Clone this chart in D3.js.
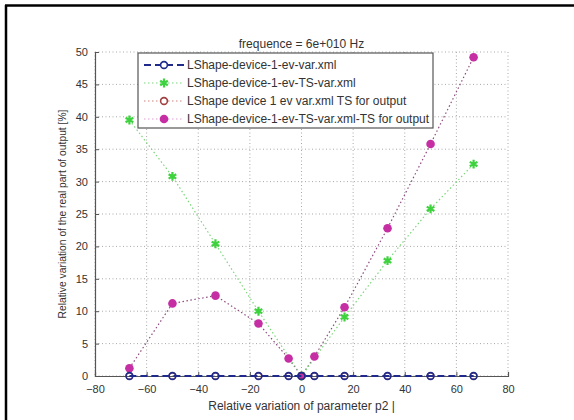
<!DOCTYPE html>
<html>
<head>
<meta charset="utf-8">
<script src="https://cdn.jsdelivr.net/npm/d3@7"></script>
<style>
  body { margin: 0; background: #fff; }
  svg { font-family: "Liberation Sans", Arial, sans-serif; }
</style>
</head>
<body>
<div id="chart"></div>
<script>
// data
var xVals = [-66.67, -50, -33.33, -16.67, -5, 0, 5, 16.67, 33.33, 50, 66.67];
var evVar = [0, 0, 0, 0, 0, 0, 0, 0, 0, 0, 0];
var tsX = [-66.67, -50, -33.33, -16.67, 0, 16.67, 33.33, 50, 66.67];
var tsVar = [39.5, 30.8, 20.4, 10.0, 0, 9.1, 17.8, 25.8, 32.7];
var evVarOut = [0, 0, 0, 0, 0, 0, 0, 0, 0, 0, 0];
var tsVarOut = [1.2, 11.2, 12.4, 8.1, 2.7, 0, 3.0, 10.6, 22.8, 35.8, 49.2];
var xTicks = [-80, -60, -40, -20, 0, 20, 40, 60, 80];
var yTicks = [0, 5, 10, 15, 20, 25, 30, 35, 40, 45, 50];
var legendNames = [
    'LShape-device-1-ev-var.xml',
    'LShape-device-1-ev-TS-var.xml',
    'LShape device 1 ev var.xml TS for output',
    'LShape-device-1-ev-TS-var.xml-TS for output'
];

var svgWidth = 574, svgHeight = 420;
var margin = { top: 52, right: 66, bottom: 44, left: 95 };
var width = svgWidth - margin.left - margin.right;
var height = svgHeight - margin.top - margin.bottom;

var svg = d3.select('#chart').append('svg')
    .attr('width', svgWidth)
    .attr('height', svgHeight);

// black frame (top and left edges only visible)
svg.append('line').attr('x1', 5).attr('x2', svgWidth).attr('y1', 5.5).attr('y2', 5.5)
    .attr('stroke', '#000').attr('stroke-width', 2.5);
svg.append('line').attr('x1', 6).attr('x2', 6).attr('y1', 5).attr('y2', svgHeight)
    .attr('stroke', '#000').attr('stroke-width', 2.5);

var chartGroup = svg.append('g')
    .attr('transform', `translate(${margin.left}, ${margin.top})`);

var xScale = d3.scaleLinear().domain([-80, 80]).range([0, width]);
var yScale = d3.scaleLinear().domain([0, 50]).range([height, 0]);

// grid
chartGroup.selectAll('.vgrid').data(xTicks).enter().append('line')
    .attr('x1', d => xScale(d)).attr('x2', d => xScale(d))
    .attr('y1', 0).attr('y2', height)
    .attr('stroke', '#a8a8a8').attr('stroke-width', 1).attr('stroke-dasharray', '1,2.5');
chartGroup.selectAll('.hgrid').data(yTicks).enter().append('line')
    .attr('x1', 0).attr('x2', width)
    .attr('y1', d => yScale(d)).attr('y2', d => yScale(d))
    .attr('stroke', '#a8a8a8').attr('stroke-width', 1).attr('stroke-dasharray', '1,2.5');

// axes, ticks pointing in
var bottomAxis = d3.axisBottom(xScale).tickValues(xTicks).tickSize(-4).tickPadding(9);
var leftAxis = d3.axisLeft(yScale).tickValues(yTicks).tickSize(-4).tickPadding(7);

var xAxis = chartGroup.append('g')
    .attr('transform', `translate(0, ${height})`)
    .call(bottomAxis);
var yAxis = chartGroup.append('g').call(leftAxis);

[xAxis, yAxis].forEach(a => {
    a.select('.domain').attr('stroke', '#555').attr('stroke-width', 1.2);
    a.selectAll('.tick line').attr('stroke', '#555');
    a.selectAll('.tick text').attr('fill', '#333').attr('font-size', '11px');
});

var line = d3.line().x(d => xScale(d[0])).y(d => yScale(d[1]));
function pairs(xs, ys) { return xs.map((x, i) => [x, ys[i]]); }

var cMag = '#c62fa3';
var cGreen = '#3fd23f';
var cNavy = '#1f2a8a';
var cBrown = '#a04040';

// magenta dotted line
chartGroup.append('path').datum(pairs(xVals, tsVarOut))
    .attr('d', line).attr('fill', 'none')
    .attr('stroke', '#8e4a80').attr('stroke-width', 1.2).attr('stroke-dasharray', '1.5,2.5');
// green dotted line
chartGroup.append('path').datum(pairs(tsX, tsVar))
    .attr('d', line).attr('fill', 'none')
    .attr('stroke', '#7cd67c').attr('stroke-width', 1.2).attr('stroke-dasharray', '1.5,2.5');

// green asterisks
var star = d3.symbol().type(d3.symbolAsterisk).size(55);
chartGroup.selectAll('.gstar').data(pairs(tsX, tsVar)).enter().append('path')
    .attr('d', star)
    .attr('transform', d => `translate(${xScale(d[0])}, ${yScale(d[1])})`)
    .attr('fill', 'none').attr('stroke', cGreen).attr('stroke-width', 2.2);

// magenta circles
chartGroup.selectAll('.mdot').data(pairs(xVals, tsVarOut)).enter().append('circle')
    .attr('cx', d => xScale(d[0])).attr('cy', d => yScale(d[1]))
    .attr('r', 4.3).attr('fill', cMag);

// brown series (all zero, hidden underneath)
chartGroup.selectAll('.bdot').data(pairs(xVals, evVarOut)).enter().append('circle')
    .attr('cx', d => xScale(d[0])).attr('cy', d => yScale(d[1]))
    .attr('r', 3.2).attr('fill', 'none').attr('stroke', cBrown).attr('stroke-width', 1.2);

// navy dashed line with open circles
chartGroup.append('path').datum(pairs(xVals, evVar))
    .attr('d', line).attr('fill', 'none')
    .attr('stroke', cNavy).attr('stroke-width', 2).attr('stroke-dasharray', '7,4');
chartGroup.selectAll('.ndot').data(pairs(xVals, evVar)).enter().append('circle')
    .attr('cx', d => xScale(d[0])).attr('cy', d => yScale(d[1]))
    .attr('r', 3.4).attr('fill', 'none').attr('stroke', cNavy).attr('stroke-width', 1.6);

// title and labels
svg.append('text')
    .attr('x', margin.left + width / 2).attr('y', 48)
    .attr('text-anchor', 'middle').attr('font-size', '12px').attr('fill', '#333')
    .text('frequence = 6e+010 Hz');

svg.append('text')
    .attr('x', margin.left + width / 2).attr('y', 410)
    .attr('text-anchor', 'middle').attr('font-size', '12px').attr('fill', '#333')
    .text('Relative variation of parameter p2 |');

svg.append('text')
    .attr('transform', `translate(66, ${margin.top + height / 2}) rotate(-90)`)
    .attr('text-anchor', 'middle').attr('font-size', '10.3px').attr('fill', '#333')
    .text('Relative variation of the real part of output [%]');

// legend
var legend = svg.append('g').attr('transform', 'translate(138, 53)');
legend.append('rect')
    .attr('width', 295).attr('height', 75)
    .attr('fill', '#fff').attr('stroke', '#555').attr('stroke-width', 1.2);

var rowY = [12, 30, 48, 66];
legendNames.forEach((name, i) => {
    var row = legend.append('g').attr('transform', `translate(0, ${rowY[i]})`);
    var stroke, dash, sw;
    if (i === 0) { stroke = cNavy; dash = '7,4'; sw = 2; }
    else if (i === 1) { stroke = '#7cd67c'; dash = '1.5,2.5'; sw = 1.2; }
    else if (i === 2) { stroke = '#d08080'; dash = '1.5,2.5'; sw = 1.2; }
    else { stroke = '#e0a0d0'; dash = '1.5,2.5'; sw = 1.2; }
    row.append('line').attr('x1', 6).attr('x2', 46).attr('y1', 0).attr('y2', 0)
        .attr('stroke', stroke).attr('stroke-width', sw).attr('stroke-dasharray', dash);
    if (i === 0) {
        row.append('circle').attr('cx', 26).attr('r', 3.4).attr('fill', '#fff')
            .attr('stroke', cNavy).attr('stroke-width', 1.6);
    } else if (i === 1) {
        row.append('path').attr('d', star).attr('transform', 'translate(26, 0)')
            .attr('fill', 'none').attr('stroke', cGreen).attr('stroke-width', 2.2);
    } else if (i === 2) {
        row.append('circle').attr('cx', 26).attr('r', 3.4).attr('fill', '#fff')
            .attr('stroke', cBrown).attr('stroke-width', 1.6);
    } else {
        row.append('circle').attr('cx', 26).attr('r', 4.3).attr('fill', cMag);
    }
    row.append('text').attr('x', 49).attr('y', 4)
        .attr('font-size', '12px').attr('fill', '#333')
        .text(name);
});
</script>
</body>
</html>
